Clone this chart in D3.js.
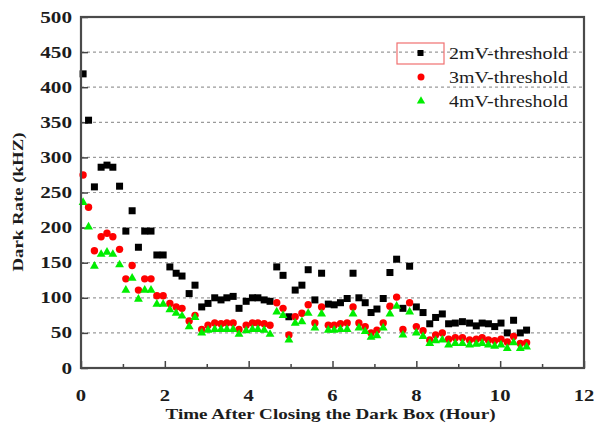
<!DOCTYPE html>
<html>
<head>
<meta charset="utf-8">
<script src="https://cdn.jsdelivr.net/npm/d3@7"></script>
<style>
  body { margin: 0; background: #fff; }
  svg { display: block; font-family: "Liberation Serif", "Times New Roman", serif; }
</style>
</head>
<body>
<div id="chart"></div>
<script>
const hours = [0.05,0.18,0.32,0.48,0.62,0.76,0.92,1.07,1.22,1.37,1.52,1.67,1.81,1.96,2.12,2.27,2.41,2.58,2.72,2.88,
  3.03,3.19,3.34,3.48,3.63,3.77,3.94,4.09,4.22,4.37,4.51,4.67,4.82,4.96,5.11,5.27,5.42,5.58,5.74,5.9,
  6.04,6.19,6.35,6.49,6.63,6.78,6.92,7.06,7.21,7.37,7.53,7.68,7.84,8.0,8.16,8.32,8.46,8.62,8.77,8.93,
  9.1,9.27,9.43,9.57,9.72,9.87,10.02,10.17,10.32,10.48,10.63]

const rate2mV = [419,353,258,286,289,286,259,195,224,172,195,195,161,161,144,135,131,106,118,87,
  92,100,97,100,102,85,95,100,100,97,95,144,132,73,111,118,140,97,135,91,
  90,93,99,135,100,93,79,84,99,136,155,85,145,87,79,63,72,77,63,64,
  66,64,60,64,63,59,64,50,68,50,54]

const rate3mV = [275,229,167,187,192,187,169,127,146,111,127,127,103,103,92,87,85,67,75,55,
  61,64,63,64,64,55,61,64,64,63,61,93,85,47,73,78,90,64,87,61,
  61,63,64,87,64,59,50,54,64,88,101,55,93,59,53,40,47,50,41,43,
  43,40,41,43,40,39,41,37,45,35,36]

const rate4mV = [236,201,145,162,165,162,147,111,128,98,111,111,91,91,83,78,74,59,72,50,
  54,55,55,55,55,48,53,55,55,54,48,80,75,40,64,66,78,57,77,54,
  54,55,55,77,57,52,44,46,57,77,88,47,80,50,45,35,39,40,33,35,
  35,33,34,35,33,31,33,28,36,28,30]

const seriesNames = ["2mV-threshold", "3mV-threshold", "4mV-threshold"]
const xTicks = [0, 2, 4, 6, 8, 10, 12]
const xMinorTicks = [1, 3, 5, 7, 9, 11]
const yTicks = [0, 50, 100, 150, 200, 250, 300, 350, 400, 450, 500]

const width = 594, height = 423
const plot = { left: 81, right: 584, top: 17, bottom: 368 }
const ink = "#1c1c1c"

const svg = d3.select("#chart").append("svg")
    .attr("width", width)
    .attr("height", height)

const x = d3.scaleLinear().domain([0, 12]).range([plot.left, plot.right])
const y = d3.scaleLinear().domain([0, 500]).range([plot.bottom, plot.top])

// dashed grid
svg.append("g")
    .selectAll("line")
    .data(yTicks.filter(d => d > 0 && d < 500))
    .join("line")
    .attr("x1", plot.left).attr("x2", plot.right)
    .attr("y1", y).attr("y2", y)
    .attr("stroke", "#9a9a9a")
    .attr("stroke-width", 1.2)
    .attr("stroke-dasharray", "3,3")

// axes with inward ticks
const xAxis = svg.append("g")
    .attr("transform", `translate(0,${plot.bottom})`)
    .call(d3.axisTop(x).tickValues(xTicks).tickSize(7).tickFormat(""))
xAxis.select(".domain").remove()
xAxis.selectAll("line").attr("stroke", "#444").attr("stroke-width", 1.5)

const xMinor = svg.append("g")
    .attr("transform", `translate(0,${plot.bottom})`)
    .call(d3.axisTop(x).tickValues(xMinorTicks).tickSize(4).tickFormat(""))
xMinor.select(".domain").remove()
xMinor.selectAll("line").attr("stroke", "#444").attr("stroke-width", 1.5)

const yAxis = svg.append("g")
    .attr("transform", `translate(${plot.left},0)`)
    .call(d3.axisRight(y).tickValues(yTicks).tickSize(7).tickFormat(""))
yAxis.select(".domain").remove()
yAxis.selectAll("line").attr("stroke", "#444").attr("stroke-width", 1.5)

// tick labels
svg.append("g")
    .selectAll("text")
    .data(xTicks)
    .join("text")
    .attr("x", x)
    .attr("y", 401)
    .attr("text-anchor", "middle")
    .attr("font-size", 16)
    .attr("font-weight", "bold")
    .attr("fill", ink)
    .attr("textLength", d => String(d).length * 10.3)
    .attr("lengthAdjust", "spacingAndGlyphs")
    .text(d => d)

svg.append("g")
    .selectAll("text")
    .data(yTicks)
    .join("text")
    .attr("x", 72)
    .attr("y", d => y(d) + 5.5)
    .attr("text-anchor", "end")
    .attr("font-size", 16)
    .attr("font-weight", "bold")
    .attr("fill", ink)
    .attr("textLength", d => String(d).length * 10.6)
    .attr("lengthAdjust", "spacingAndGlyphs")
    .text(d => d)

// axis titles
svg.append("text")
    .attr("x", (plot.left + plot.right) / 2 - 2)
    .attr("y", 419)
    .attr("text-anchor", "middle")
    .attr("font-size", 15)
    .attr("font-weight", "bold")
    .attr("fill", ink)
    .attr("textLength", 330)
    .attr("lengthAdjust", "spacingAndGlyphs")
    .text("Time After Closing the Dark Box (Hour)")

svg.append("text")
    .attr("transform", "translate(23,202) rotate(-90)")
    .attr("text-anchor", "middle")
    .attr("font-size", 14)
    .attr("font-weight", "bold")
    .attr("fill", ink)
    .attr("textLength", 139)
    .attr("lengthAdjust", "spacingAndGlyphs")
    .text("Dark Rate (kHZ)")

// data
const rows = hours.map((h, i) => ({ h, a: rate2mV[i], b: rate3mV[i], c: rate4mV[i] }))

svg.append("g")
    .selectAll("rect")
    .data(rows)
    .join("rect")
    .attr("x", d => x(d.h) - 3.5)
    .attr("y", d => y(d.a) - 3.5)
    .attr("width", 7)
    .attr("height", 7)
    .attr("fill", "#000")

svg.append("g")
    .selectAll("circle")
    .data(rows)
    .join("circle")
    .attr("cx", d => x(d.h))
    .attr("cy", d => y(d.b))
    .attr("r", 3.7)
    .attr("fill", "#ff0000")

const tri = d3.symbol().type(d3.symbolTriangle).size(34)
svg.append("g")
    .selectAll("path")
    .data(rows)
    .join("path")
    .attr("transform", d => `translate(${x(d.h)},${y(d.c)})`)
    .attr("d", tri)
    .attr("fill", "#00ee00")

// frame
svg.append("rect")
    .attr("x", plot.left)
    .attr("y", plot.top)
    .attr("width", plot.right - plot.left)
    .attr("height", plot.bottom - plot.top)
    .attr("fill", "none")
    .attr("stroke", "#4a4a4a")
    .attr("stroke-width", 2.2)

// legend
const legend = svg.append("g")
legend.append("rect")
    .attr("x", 397).attr("y", 43)
    .attr("width", 47).attr("height", 21)
    .attr("fill", "none")
    .attr("stroke", "#f07070")
    .attr("stroke-width", 1.2)

const legendY = [53, 77, 101]
legend.append("rect")
    .attr("x", 417.5).attr("y", legendY[0] - 3)
    .attr("width", 6).attr("height", 6)
    .attr("fill", "#000")
legend.append("circle")
    .attr("cx", 421).attr("cy", legendY[1])
    .attr("r", 3.5)
    .attr("fill", "#ff0000")
legend.append("path")
    .attr("transform", `translate(421,${legendY[2]})`)
    .attr("d", d3.symbol().type(d3.symbolTriangle).size(30))
    .attr("fill", "#00ee00")

legend.selectAll("text")
    .data(seriesNames)
    .join("text")
    .attr("x", 449)
    .attr("y", (d, i) => legendY[i] + 5.5)
    .attr("font-size", 17)
    .attr("fill", ink)
    .attr("textLength", 119)
    .attr("lengthAdjust", "spacingAndGlyphs")
    .text(d => d)
</script>
</body>
</html>
